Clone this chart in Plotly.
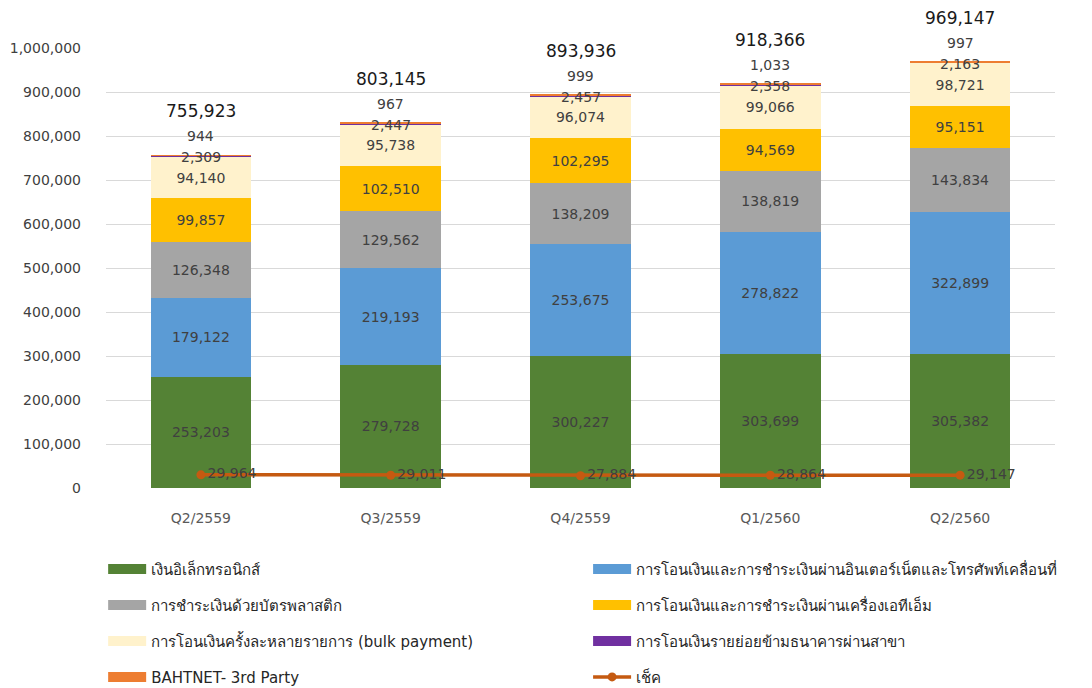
import plotly.graph_objects as go

quarters = ["Q2/2559", "Q3/2559", "Q4/2559", "Q1/2560", "Q2/2560"]
emoney = [253203, 279728, 300227, 303699, 305382]
internet = [179122, 219193, 253675, 278822, 322899]
card = [126348, 129562, 138209, 138819, 143834]
atm = [99857, 102510, 102295, 94569, 95151]
bulk = [94140, 95738, 96074, 99066, 98721]
branch = [2309, 2447, 2457, 2358, 2163]
bahtnet = [944, 967, 999, 1033, 997]
cheque = [29964, 29011, 27884, 28864, 29147]
total_labels = ["755,923", "803,145", "893,936", "918,366", "969,147"]

names = [
    "เงินอิเล็กทรอนิกส์",
    "การโอนเงินและการชำระเงินผ่านอินเตอร์เน็ตและโทรศัพท์เคลื่อนที่",
    "การชำระเงินด้วยบัตรพลาสติก",
    "การโอนเงินและการชำระเงินผ่านเครื่องเอทีเอ็ม",
    "การโอนเงินครั้งละหลายรายการ (bulk payment)",
    "การโอนเงินรายย่อยข้ามธนาคารผ่านสาขา",
    "BAHTNET- 3rd Party",
]
cheque_name = "เช็ค"
series = [emoney, internet, card, atm, bulk, branch, bahtnet]
colors = ["#548235", "#5b9bd5", "#a5a5a5", "#ffc000", "#fff2cc", "#7030a0", "#ed7d31"]
show_text = [True, True, True, True, True, False, False]
legend_of = ["legend", "legend2", "legend", "legend2", "legend", "legend2", "legend"]

FONT = "Tahoma, 'DejaVu Sans', 'Noto Sans', sans-serif"
LBL = "#404040"

fig = go.Figure()
for vals, nm, col, st in zip(series, names, colors, show_text):
    fig.add_trace(go.Bar(
        x=quarters, y=vals, name=nm, marker=dict(color=col, line=dict(width=0)),
        text=[f"{v:,}" for v in vals] if st else None,
        textposition="inside" if st else "none", insidetextanchor="middle",
        textfont=dict(color=LBL, size=14, family=FONT),
        showlegend=False, hoverinfo="x+y+name",
    ))

# legend proxies (wide colour swatches)
for i, (nm, col, lg) in enumerate(zip(names, colors, legend_of)):
    fig.add_trace(go.Scatter(
        x=[None], y=[None], mode="lines", name=nm,
        line=dict(color=col, width=12), legend=lg, legendgroup=f"g{i}",
        hoverinfo="skip",
    ))

fig.add_trace(go.Scatter(
    x=quarters, y=cheque, name=cheque_name, mode="lines+markers+text",
    line=dict(color="#c55a11", width=3.5), marker=dict(color="#c55a11", size=9),
    text=[f"{v:,}" for v in cheque], textposition="middle right",
    textfont=dict(color=LBL, size=14, family=FONT),
    legend="legend2", legendgroup="g8", showlegend=True, cliponaxis=False,
))

# labels for thin segments and totals
tops = [sum(s[i] for s in series) for i in range(len(quarters))]
for i, q in enumerate(quarters):
    fig.add_annotation(x=q, y=tops[i], text=f"{branch[i]:,}", showarrow=False,
                       yshift=-2, font=dict(color=LBL, size=14, family=FONT))
    fig.add_annotation(x=q, y=tops[i], text=f"{bahtnet[i]:,}", showarrow=False,
                       yshift=19, font=dict(color=LBL, size=14, family=FONT))
    fig.add_annotation(x=q, y=tops[i], text=total_labels[i], showarrow=False,
                       yshift=44, font=dict(color="#1a1a1a", size=17, family=FONT))

fig.update_layout(
    width=1092, height=688, barmode="stack", bargap=0.47,
    plot_bgcolor="white", paper_bgcolor="white",
    margin=dict(l=98, r=45, t=40, b=208, autoexpand=False),
    font=dict(family=FONT, color="#595959", size=14),
    xaxis=dict(showgrid=False, showline=False, ticks="", automargin=False,
               ticklabelstandoff=20, tickfont=dict(size=14, color="#595959")),
    yaxis=dict(range=[0, 1000000], dtick=100000, tickformat=",d", showgrid=True,
               gridcolor="#d9d9d9", gridwidth=1, zeroline=False, showline=False,
               automargin=False, ticklabelstandoff=24,
               tickfont=dict(size=14, color="#404040")),
    legend=dict(x=-0.003, y=-0.147, xanchor="left", yanchor="top", orientation="v",
                traceorder="grouped", tracegroupgap=13.5, bgcolor="rgba(0,0,0,0)",
                font=dict(size=15, color="#262626", family=FONT), itemwidth=38),
    legend2=dict(x=0.508, y=-0.147, xanchor="left", yanchor="top", orientation="v",
                 traceorder="grouped", tracegroupgap=13.5, bgcolor="rgba(0,0,0,0)",
                 font=dict(size=15, color="#262626", family=FONT), itemwidth=38),
    showlegend=True,
)

fig.write_html("out.html")
